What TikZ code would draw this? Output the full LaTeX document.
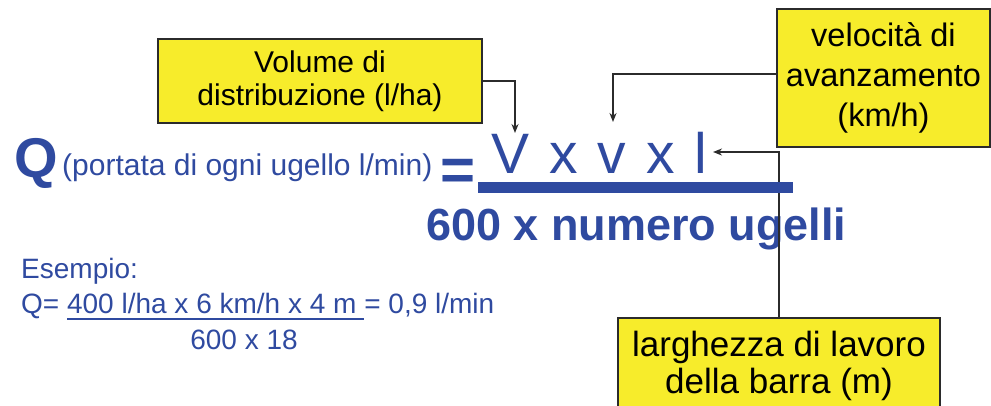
\documentclass[tikz,border=0pt]{standalone}
\usepackage{fontspec}
\setmainfont{Liberation Sans}
\usetikzlibrary{arrows.meta, positioning, calc}
\definecolor{qBlue}{HTML}{2F4AA0}
\definecolor{qYellow}{HTML}{F7EC2B}
\definecolor{qEdge}{HTML}{2B2B2B}
\newcommand{\fsz}[2]{\fontsize{#1}{#2}\selectfont}
\newcommand{\ulbar}[1]{\setbox0\hbox{#1}\rlap{\rule[-7pt]{\wd0}{2.2pt}}\box0}

\begin{document}
\begin{tikzpicture}[x=1pt, y=-1pt,
    box/.style={draw=qEdge, line width=2pt, fill=qYellow, align=center, inner sep=0pt},
    conn/.style={draw=qEdge, line width=1.6pt, -{Stealth[length=9pt, width=7pt]}},
    qtext/.style={text=qBlue, inner sep=0pt}]
  \useasboundingbox (0,0) rectangle (991,405);
  % caselle gialle
  \node[box, minimum width=324pt, minimum height=84pt, font=\fsz{30}{33}] (vol) at (320,81) {Volume di\\distribuzione (l/ha)};
  \node[box, minimum width=213pt, minimum height=138pt, font=\fsz{32.5}{40}] (vel) at (883.5,78) {velocità di\\avanzamento\\(km/h)};
  \node[box, anchor=north, minimum width=322pt, minimum height=96pt, font=\fsz{35}{37}] (larg) at (779,317) {larghezza di lavoro\\della barra (m)};
  % formula
  \node[qtext, anchor=base west, font=\fsz{56}{64}\bfseries] (q) at (14,177) {Q};
  \node[qtext, anchor=base west, font=\fsz{30}{36}] (por) at (62,175) {(portata di ogni ugello l/min)};
  \node[qtext, anchor=base, font=\fsz{60}{70}\bfseries] (eq) at (458,190) {=};
  \node[qtext, anchor=base west, font=\fsz{57}{66}] (num) at (491,173) {V\hspace{0.35em}x\hspace{0.35em}v\hspace{0.35em}x\hspace{0.35em}l};
  \node[qtext, anchor=base west, font=\fsz{45}{54}\bfseries] (den) at (426,240) {600 x numero ugelli};
  % frecce
  \coordinate (tipV) at (515,133);
  \coordinate (tipv) at (613,122);
  \coordinate (tipl) at (713,152);
  \draw[conn] (vol.east) -| (tipV);
  \draw[conn] ([yshift=4pt]vel.west) -| (tipv);
  \draw[conn] (larg.north) |- (tipl);
  \fill[qBlue] (478,182) rectangle (793,193);
  % esempio
  \node[qtext, anchor=base west, font=\fsz{28}{35}] (es) at (21,278) {Esempio:};
  \node[qtext, anchor=base west, font=\fsz{28}{35}] (esq) at (21,313) {Q= \ulbar{400 l/ha x 6 km/h x 4 m }= 0,9 l/min};
  \node[qtext, anchor=base, font=\fsz{28}{35}] (esd) at (244,349) {600 x 18};
\end{tikzpicture}
\end{document}
